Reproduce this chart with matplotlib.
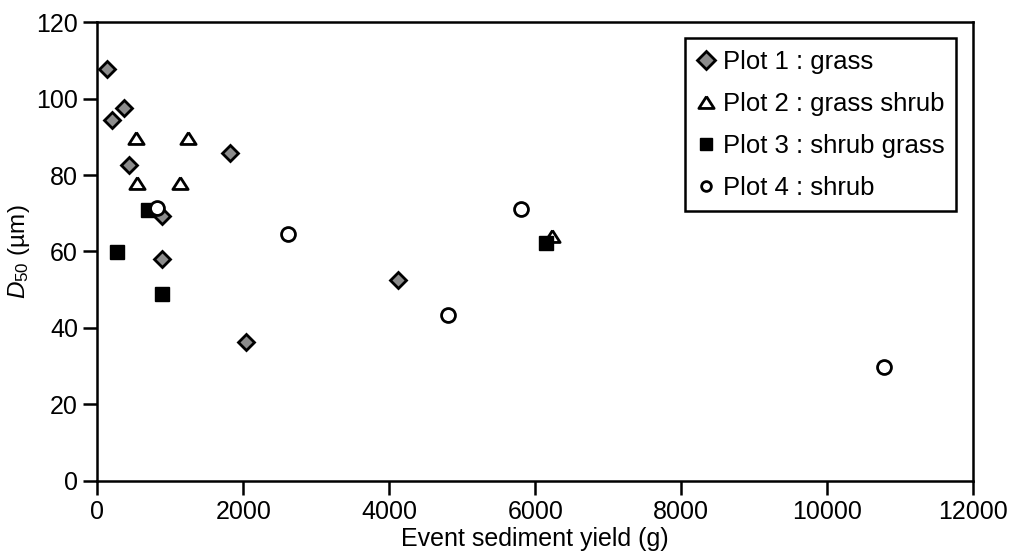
import matplotlib
matplotlib.use('Agg')
import matplotlib.pyplot as plt
import numpy as np

plt.rcParams['font.family'] = ['Liberation Sans', 'DejaVu Sans']
plt.rcParams['mathtext.fontset'] = 'custom'
plt.rcParams['mathtext.rm'] = 'Liberation Sans'
plt.rcParams['mathtext.it'] = 'Liberation Sans:italic'

# event sediment yield (g) and D50 (um) per plot
grass_x = [126, 203, 367, 427, 883, 883, 1823, 2042, 4119]
grass_y = [107.7, 94.4, 97.4, 82.7, 69.2, 58.0, 85.8, 36.4, 52.6]

grass_shrub_x = [523, 1239, 537, 1125, 6227]
grass_shrub_y = [89.7, 89.7, 77.9, 77.9, 64.0]

shrub_grass_x = [696, 263, 879, 6150]
shrub_grass_y = [70.9, 59.8, 48.8, 62.2]

shrub_x = [819, 2618, 5808, 4803, 10782]
shrub_y = [71.5, 64.7, 71.2, 43.3, 29.8]

labels = ['Plot 1 : grass', 'Plot 2 : grass shrub', 'Plot 3 : shrub grass', 'Plot 4 : shrub']

tri = [(0, 0.78), (-1, -0.78), (1, -0.78), (0, 0.78)]

fig = plt.figure(figsize=(10.13, 5.6), dpi=100)
ax = fig.add_axes([0.0962, 0.1411, 0.8643, 0.8196])

ax.plot(grass_x, grass_y, ls='none', marker='D', ms=8.2, mfc='#8c8c8c', mec='black', mew=2, label=labels[0])
ax.plot(grass_shrub_x, grass_shrub_y, ls='none', marker=tri, ms=11, mfc='white', mec='black', mew=2, label=labels[1])
ax.plot(shrub_grass_x, shrub_grass_y, ls='none', marker='s', ms=10, mfc='black', mec='black', mew=1, label=labels[2])
ax.plot(shrub_x, shrub_y, ls='none', marker='o', ms=10, mfc='white', mec='black', mew=2, label=labels[3])

ax.set_xlim(0, 12000)
ax.set_ylim(0, 120)
ax.set_xticks(np.arange(0, 12001, 2000))
ax.set_yticks(np.arange(0, 121, 20))
ax.tick_params(direction='out', length=10, width=1.8, labelsize=18, pad=4)
for s in ax.spines.values():
    s.set_linewidth(1.8)

ax.set_xlabel('Event sediment yield (g)', fontsize=18, labelpad=2)
ax.set_ylabel(r'$D_{50}$ (µm)', fontsize=17.5, labelpad=3)

leg = ax.legend(loc='upper right', bbox_to_anchor=(0.981, 0.965), borderaxespad=0,
                fontsize=18.5, frameon=True, fancybox=False,
                handlelength=0.8, handletextpad=0.25, labelspacing=0.7,
                borderpad=0.45)
leg.get_frame().set_edgecolor('black')
leg.get_frame().set_linewidth(1.8)
leg.get_frame().set_alpha(1)
# legend symbols are drawn at slightly different sizes than in the plot
for h, ms in zip(leg.legend_handles, [9.2, 11, 9, 7]):
    h.set_markersize(ms)

fig.savefig('out.png', dpi=100)
